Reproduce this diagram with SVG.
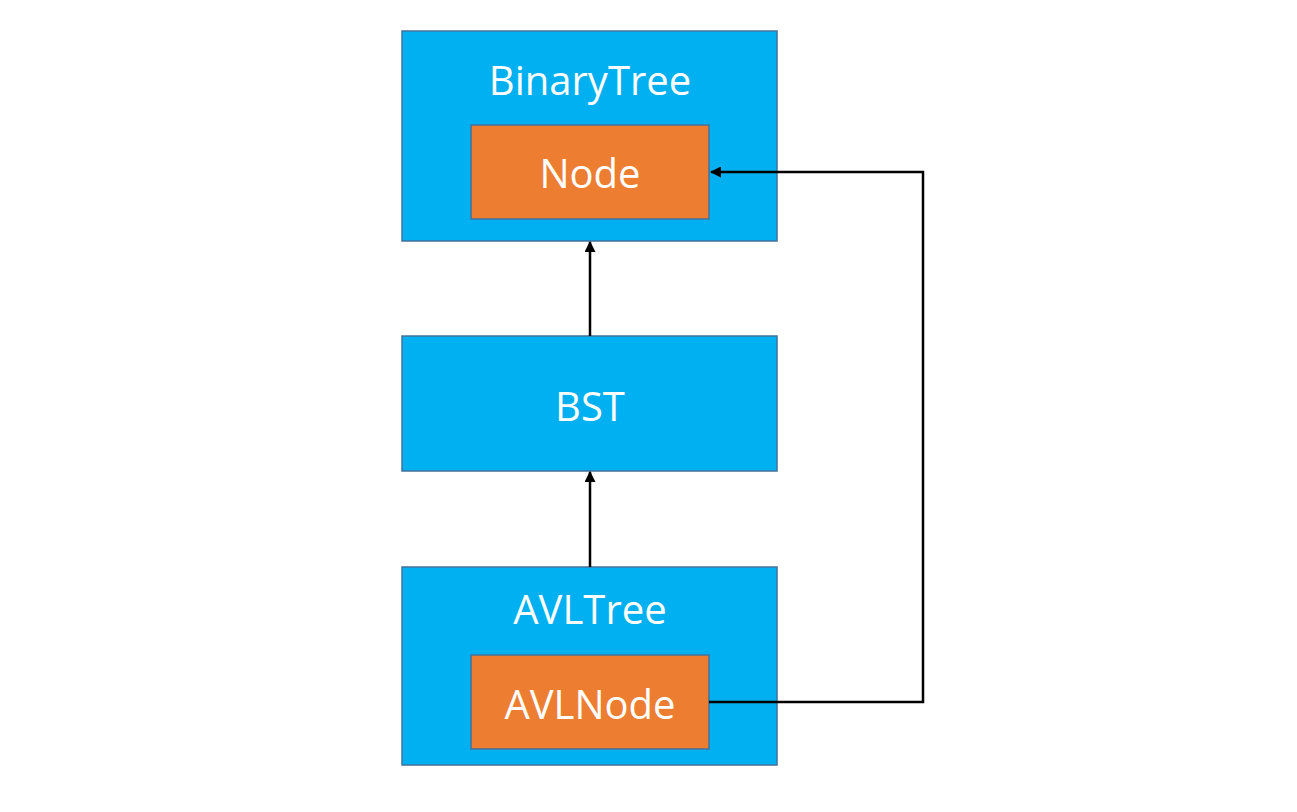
<svg xmlns="http://www.w3.org/2000/svg" width="1297" height="812" viewBox="0 0 1297 812">
  <style>
    .outer { fill: #00B0F0; stroke: #41719C; stroke-width: 1.5; }
    .inner { fill: #ED7D31; stroke: #41719C; stroke-width: 1.5; }
    .label { font-family: "Open Sans", "Noto Sans", "DejaVu Sans", sans-serif; font-size: 40px; fill: #FFFFFF; text-anchor: middle; }
    .conn { fill: none; stroke: #000000; stroke-width: 2.5; }
  </style>
  <defs>
    <marker id="arrow" viewBox="0 0 10 10" refX="9" refY="5" markerWidth="4.4" markerHeight="4.4" orient="auto" markerUnits="strokeWidth">
      <path d="M0,0 L10,5 L0,10 z" fill="#000000"/>
    </marker>
  </defs>
  <rect width="1297" height="812" fill="#FFFFFF"/>

  <g id="binarytree">
    <rect class="outer" x="402" y="31" width="375" height="210"/>
    <text class="label" x="590" y="95">BinaryTree</text>
    <g id="node">
      <rect class="inner" x="471" y="125" width="238" height="94"/>
      <text class="label" x="590" y="188">Node</text>
    </g>
  </g>

  <g id="bst">
    <rect class="outer" x="402" y="336" width="375" height="135"/>
    <text class="label" x="590" y="421">BST</text>
  </g>

  <g id="avltree">
    <rect class="outer" x="402" y="567" width="375" height="198"/>
    <text class="label" x="590" y="624">AVLTree</text>
    <g id="avlnode">
      <rect class="inner" x="471" y="655" width="238" height="94"/>
      <text class="label" x="590" y="719">AVLNode</text>
    </g>
  </g>

  <g id="connectors">
    <path class="conn" d="M590,336 L590,242" marker-end="url(#arrow)"/>
    <path class="conn" d="M590,567 L590,472" marker-end="url(#arrow)"/>
    <path class="conn" d="M709,702 L923,702 L923,172 L711,172" marker-end="url(#arrow)"/>
  </g>
</svg>
